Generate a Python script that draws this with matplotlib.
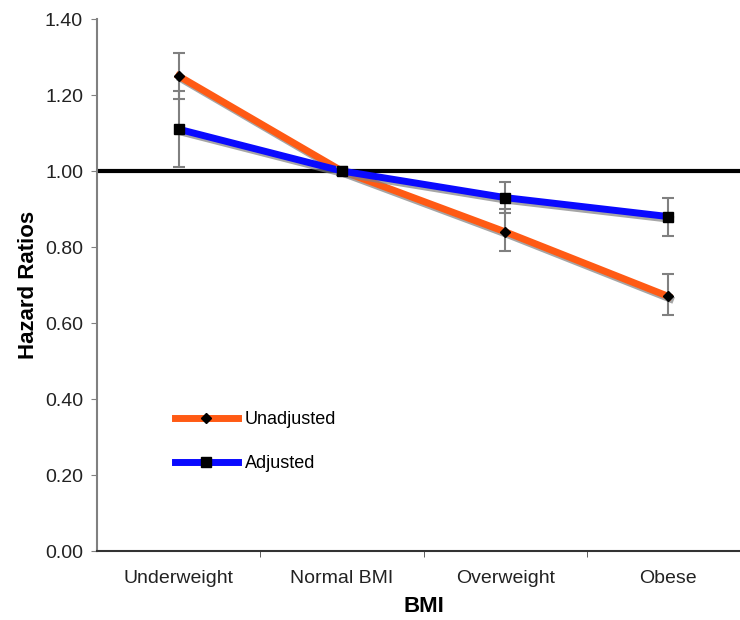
import matplotlib
matplotlib.use("Agg")
import matplotlib.pyplot as plt
import matplotlib.patheffects as pe
from matplotlib.lines import Line2D

plt.rcParams['font.family'] = ['Liberation Sans', 'DejaVu Sans']

categories = ["Underweight", "Normal BMI", "Overweight", "Obese"]
unadjusted = [1.25, 1.00, 0.84, 0.67]
unadj_low = [1.19, 0.99, 0.79, 0.62]
unadj_high = [1.31, 1.01, 0.90, 0.73]
adjusted = [1.11, 1.00, 0.93, 0.88]
adj_low = [1.01, 0.99, 0.89, 0.83]
adj_high = [1.21, 1.01, 0.97, 0.93]
yticks = [0.0, 0.2, 0.4, 0.6, 0.8, 1.0, 1.2, 1.4]

fig = plt.figure(figsize=(7.4, 6.2), dpi=100)
ax = fig.add_axes([97/740, 1-551/620, 653/740, 532/620])

x = list(range(len(categories)))
orange = "#FF5A14"
blue = "#0A0AFF"
grey = "#808080"

ax.axhline(1.0, color="black", lw=3, zorder=1)

shadow = [pe.SimpleLineShadow(offset=(1.5, -2), shadow_color="gray", alpha=0.7), pe.Normal()]
ax.plot(x, unadjusted, color=orange, lw=5, zorder=3, path_effects=shadow)
ax.plot(x, adjusted, color=blue, lw=5, zorder=3, path_effects=shadow)

ax.errorbar(x, unadjusted,
            yerr=[[u - l for u, l in zip(unadjusted, unadj_low)],
                  [h - u for u, h in zip(unadjusted, unadj_high)]],
            fmt="none", ecolor=grey, elinewidth=1.5, capsize=4, capthick=1.5, zorder=4)
ax.errorbar(x, adjusted,
            yerr=[[u - l for u, l in zip(adjusted, adj_low)],
                  [h - u for u, h in zip(adjusted, adj_high)]],
            fmt="none", ecolor=grey, elinewidth=1.5, capsize=4, capthick=1.5, zorder=4)

ax.plot(x, unadjusted, ls="none", marker="D", ms=5, color="black", zorder=5)
ax.plot(x, adjusted, ls="none", marker="s", ms=7, color="black", zorder=5)

ax.set_xlim(-0.5, 3.5)
ax.set_ylim(0, 1.4)
ax.set_yticks(yticks)
ax.set_yticklabels([f"{v:.2f}" for v in yticks], fontsize=14, color="#222222")
ax.set_xticks(x)
ax.set_xticklabels(categories, fontsize=14, color="#222222")
ax.tick_params(axis="x", length=0, pad=14)
ax.set_xticks([0.5, 1.5, 2.5], minor=True)
ax.tick_params(axis="x", which="minor", length=4, color="#444444", direction="out")
ax.tick_params(axis="y", length=4, color=grey, direction="out", pad=6)

for s in ["top", "right"]:
    ax.spines[s].set_visible(False)
ax.spines["left"].set_color(grey)
ax.spines["left"].set_linewidth(1.5)
ax.spines["bottom"].set_color("#333333")
ax.spines["bottom"].set_linewidth(1.5)

ax.set_ylabel("Hazard Ratios", fontsize=16, fontweight="bold", labelpad=4)
ax.set_xlabel("BMI", fontsize=16, fontweight="bold", labelpad=6)

handles = [
    Line2D([], [], color=orange, lw=5, marker="D", ms=5, mfc="black", mec="black"),
    Line2D([], [], color=blue, lw=5, marker="s", ms=7, mfc="black", mec="black"),
]
ax.legend(handles, ["Unadjusted", "Adjusted"], loc="upper left",
          bbox_to_anchor=(0.105, 0.28), frameon=False, fontsize=13,
          handlelength=3.5, labelspacing=1.5, handletextpad=0.4, borderpad=0)

fig.savefig("out.png", dpi=100)
